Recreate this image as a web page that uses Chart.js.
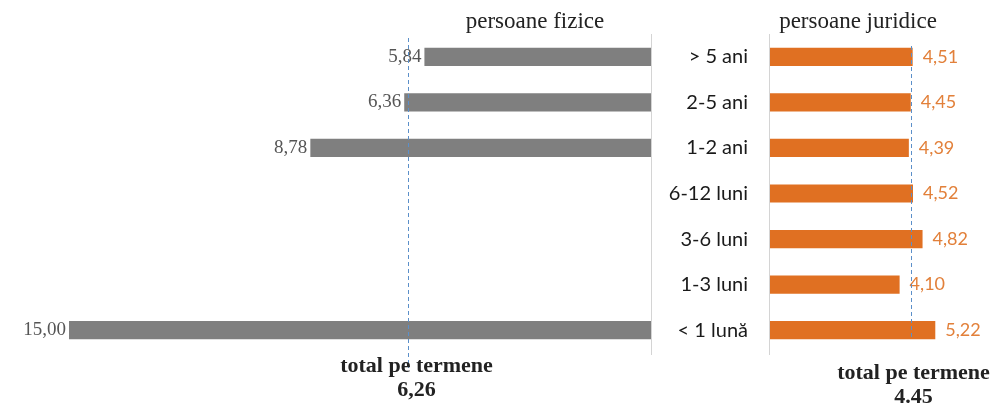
<!DOCTYPE html>
<html>
<head>
<meta charset="utf-8">
<script src="https://cdn.jsdelivr.net/npm/chart.js@4"></script>
<style>
  body { margin: 0; background: #fff; }
  .panel { position: absolute; top: 0; height: 405px; }
</style>
</head>
<body>
<div class="panel" style="left:0;width:660px"><canvas id="fizice-chart" width="660" height="405"></canvas></div>
<div class="panel" style="left:660px;width:338px"><canvas id="juridice-chart" width="338" height="405"></canvas></div>
<script>
// termene si valori
const categorii = ['> 5 ani', '2-5 ani', '1-2 ani', '6-12 luni', '3-6 luni', '1-3 luni', '< 1 lună'];
const fizice = [5.84, 6.36, 8.78, null, null, null, 15.00];
const juridice = [4.51, 4.45, 4.39, 4.52, 4.82, 4.10, 5.22];
const totalFizice = 6.26;
const totalJuridice = 4.45;

const gri = '#7f7f7f';
const portocaliu = '#E07022';
const albastru = '#5b8fc9';

function virgula(v) {
    return v.toFixed(2).replace('.', ',');
}

// linia de zero, linia punctata si textele
function desen(opt) {
    return {
        id: 'desen',
        afterDatasetsDraw(chart) {
            const ctx = chart.ctx;
            const x = chart.scales.x;
            const area = chart.chartArea;
            const ds = chart.getDatasetMeta(0).data;
            ctx.save();
            // linia verticala de la zero
            ctx.strokeStyle = '#d4d4d4';
            ctx.lineWidth = 1;
            const x0 = Math.round(x.getPixelForValue(0)) + 0.5;
            ctx.beginPath();
            ctx.moveTo(x0, area.top);
            ctx.lineTo(x0, area.bottom + 2);
            ctx.stroke();

            // etichete valori
            ctx.font = opt.fontValori;
            ctx.fillStyle = opt.culoareValori;
            ctx.textBaseline = 'middle';
            ctx.textAlign = opt.stanga ? 'right' : 'left';
            opt.valori.forEach((v, i) => {
                if (v === null) return;
                const bar = ds[i];
                ctx.fillText(opt.format(v), bar.x + (opt.stanga ? -3 : 10), bar.y);
            });

            // linia punctata a totalului
            const xt = Math.round(x.getPixelForValue(opt.total)) + 0.5;
            ctx.strokeStyle = albastru;
            ctx.setLineDash([4, 3]);
            ctx.beginPath();
            ctx.moveTo(xt, area.top + opt.sus);
            ctx.lineTo(xt, area.bottom + opt.jos);
            ctx.stroke();
            ctx.setLineDash([]);

            // titlul panoului
            ctx.font = '23px "Liberation Serif"';
            ctx.fillStyle = '#222';
            ctx.textAlign = 'center';
            ctx.textBaseline = 'middle';
            ctx.fillText(opt.titlu, opt.titluX, 22);

            // total pe termene
            ctx.font = 'bold 22px "Liberation Serif"';
            ctx.fillText('total pe termene', xt + opt.dx, opt.totalY);
            ctx.fillText(opt.totalText, xt + opt.dx, opt.totalY + 24);
            ctx.restore();
        }
    };
}

const ctxFizice = document.getElementById('fizice-chart').getContext('2d');
const fiziceChart = new Chart(ctxFizice, {
    type: 'bar',
    data: {
        labels: categorii,
        datasets: [{
            data: fizice,
            backgroundColor: gri,
            categoryPercentage: 1,
            barPercentage: 0.4
        }]
    },
    options: {
        indexAxis: 'y',
        responsive: false,
        animation: false,
        devicePixelRatio: 1,
        layout: { padding: { left: 69, right: 9, top: 34, bottom: 52 } },
        plugins: { legend: { display: false }, tooltip: { enabled: false } },
        scales: {
            x: { min: 0, max: 15, reverse: true, display: false },
            y: { display: false }
        }
    },
    plugins: [desen({
        valori: fizice, stanga: true, format: virgula,
        fontValori: '19px "Liberation Serif"', culoareValori: '#555',
        total: totalFizice, sus: 4, jos: 15, dx: 8,
        titlu: 'persoane fizice', titluX: 535,
        totalText: virgula(totalFizice), totalY: 366
    })]
});

const ctxJuridice = document.getElementById('juridice-chart').getContext('2d');
const juridiceChart = new Chart(ctxJuridice, {
    type: 'bar',
    data: {
        labels: categorii,
        datasets: [{
            data: juridice,
            backgroundColor: portocaliu,
            categoryPercentage: 1,
            barPercentage: 0.4
        }]
    },
    options: {
        indexAxis: 'y',
        responsive: false,
        animation: false,
        devicePixelRatio: 1,
        layout: { padding: { left: 0, right: 6, top: 34, bottom: 52 } },
        plugins: { legend: { display: false }, tooltip: { enabled: false } },
        scales: {
            x: { min: 0, max: 7, display: false },
            y: {
                afterFit(scale) { scale.width = 109; },
                grid: { display: false, drawTicks: false },
                border: { display: false },
                ticks: {
                    padding: 21,
                    color: '#1a1a1a',
                    font: { family: 'Lato', size: 20 }
                }
            }
        }
    },
    plugins: [desen({
        valori: juridice, stanga: false, format: virgula,
        fontValori: '18px Lato', culoareValori: '#E2803A',
        total: totalJuridice, sus: 12, jos: -14, dx: 2,
        titlu: 'persoane juridice', titluX: 198,
        totalText: totalJuridice.toFixed(2), totalY: 373
    })]
});
</script>
</body>
</html>
